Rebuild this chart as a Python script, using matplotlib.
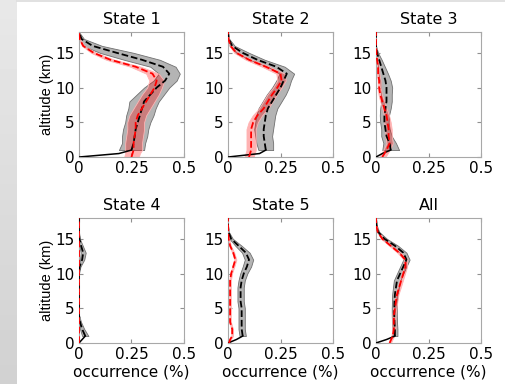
"""Occurrence profiles by state, black and red with spread bands"""
import numpy as np
import matplotlib
matplotlib.use("Agg")
import matplotlib.pyplot as plt

ALT = [0, 0.5, 1, 2, 3, 4, 5, 6, 7, 8, 9, 10, 11, 12, 13, 14, 15, 16, 17, 18]
TITLES = ["State 1", "State 2", "State 3", "State 4", "State 5", "All"]

# black profiles (mean and half spread)
s1_black = [0, 0.19, 0.25, 0.26, 0.265, 0.27, 0.28, 0.29, 0.30, 0.31, 0.34, 0.37, 0.41, 0.43, 0.40, 0.30, 0.18, 0.065, 0.012, 0]
s1_black_err = [0, 0, 0.06, 0.055, 0.06, 0.06, 0.06, 0.065, 0.065, 0.07, 0.065, 0.06, 0.055, 0.05, 0.06, 0.085, 0.08, 0.045, 0.012, 0]
s2_black = [0, 0.15, 0.18, 0.175, 0.17, 0.17, 0.175, 0.18, 0.19, 0.21, 0.23, 0.25, 0.265, 0.28, 0.23, 0.14, 0.07, 0.02, 0.003, 0]
s2_black_err = [0, 0, 0.035, 0.04, 0.04, 0.045, 0.045, 0.045, 0.045, 0.045, 0.045, 0.04, 0.035, 0.035, 0.04, 0.035, 0.03, 0.012, 0.003, 0]
s3_black = [0, 0.03, 0.07, 0.065, 0.05, 0.045, 0.04, 0.04, 0.045, 0.05, 0.05, 0.05, 0.045, 0.035, 0.025, 0.015, 0.005, 0, 0, 0]
s3_black_err = [0, 0, 0.04, 0.03, 0.025, 0.02, 0.02, 0.022, 0.025, 0.025, 0.025, 0.027, 0.025, 0.022, 0.017, 0.012, 0.005, 0, 0, 0]
s4_black = [0, 0.015, 0.03, 0.015, 0.005, 0, 0, 0, 0, 0, 0, 0, 0.003, 0.015, 0.02, 0.01, 0.002, 0, 0, 0]
s4_black_err = [0, 0, 0.015, 0.01, 0.005, 0, 0, 0, 0, 0, 0, 0, 0.004, 0.01, 0.012, 0.008, 0.002, 0, 0, 0]
s5_black = [0, 0.04, 0.07, 0.065, 0.065, 0.065, 0.065, 0.06, 0.06, 0.06, 0.065, 0.075, 0.09, 0.10, 0.085, 0.05, 0.015, 0.002, 0, 0]
s5_black_err = [0, 0, 0.015, 0.015, 0.015, 0.015, 0.015, 0.015, 0.015, 0.015, 0.015, 0.017, 0.02, 0.02, 0.018, 0.015, 0.008, 0.002, 0, 0]
all_black = [0, 0.05, 0.09, 0.09, 0.088, 0.087, 0.087, 0.088, 0.09, 0.095, 0.10, 0.115, 0.13, 0.145, 0.13, 0.09, 0.04, 0.01, 0.002, 0]
all_black_err = [0, 0, 0.012, 0.012, 0.012, 0.012, 0.012, 0.012, 0.013, 0.014, 0.015, 0.015, 0.015, 0.015, 0.015, 0.015, 0.012, 0.005, 0.001, 0]

# red profiles (mean and half spread)
s1_red = [0.25, 0.255, 0.26, 0.26, 0.265, 0.27, 0.27, 0.28, 0.30, 0.32, 0.34, 0.36, 0.37, 0.35, 0.27, 0.15, 0.07, 0.02, 0.003, 0]
s1_red_err = [0.035, 0.035, 0.04, 0.04, 0.04, 0.04, 0.04, 0.04, 0.04, 0.04, 0.04, 0.035, 0.035, 0.03, 0.025, 0.02, 0.012, 0.006, 0.002, 0]
s2_red = [0.10, 0.105, 0.11, 0.11, 0.11, 0.11, 0.12, 0.14, 0.17, 0.19, 0.21, 0.235, 0.255, 0.25, 0.18, 0.10, 0.04, 0.012, 0.002, 0]
s2_red_err = [0.022, 0.022, 0.022, 0.022, 0.022, 0.022, 0.022, 0.022, 0.022, 0.022, 0.022, 0.02, 0.02, 0.02, 0.018, 0.015, 0.01, 0.005, 0.001, 0]
s3_red = [0.03, 0.04, 0.05, 0.065, 0.06, 0.06, 0.055, 0.05, 0.04, 0.03, 0.02, 0.015, 0.015, 0.01, 0.01, 0.005, 0.002, 0, 0, 0]
s3_red_err = [0.015, 0.015, 0.015, 0.015, 0.015, 0.015, 0.015, 0.012, 0.01, 0.01, 0.008, 0.007, 0.007, 0.006, 0.005, 0.003, 0.001, 0, 0, 0]
s4_red = [0] * 20
s4_red_err = [0] * 20
s5_red = [0.005, 0.01, 0.02, 0.02, 0.01, 0.01, 0.01, 0.01, 0.01, 0.01, 0.01, 0.015, 0.025, 0.035, 0.025, 0.01, 0.003, 0.001, 0, 0]
s5_red_err = [0.003, 0.003, 0.004, 0.004, 0.004, 0.004, 0.004, 0.004, 0.004, 0.004, 0.004, 0.004, 0.005, 0.005, 0.005, 0.004, 0.002, 0.001, 0, 0]
all_red = [0.065, 0.072, 0.08, 0.085, 0.085, 0.085, 0.09, 0.095, 0.10, 0.11, 0.12, 0.13, 0.14, 0.14, 0.11, 0.07, 0.03, 0.008, 0.001, 0]
all_red_err = [0.006, 0.006, 0.007, 0.007, 0.007, 0.007, 0.007, 0.007, 0.007, 0.008, 0.008, 0.008, 0.008, 0.008, 0.008, 0.007, 0.005, 0.003, 0.001, 0]

BLACK = [s1_black, s2_black, s3_black, s4_black, s5_black, all_black]
BLACK_ERR = [s1_black_err, s2_black_err, s3_black_err, s4_black_err, s5_black_err, all_black_err]
RED = [s1_red, s2_red, s3_red, s4_red, s5_red, all_red]
RED_ERR = [s1_red_err, s2_red_err, s3_red_err, s4_red_err, s5_red_err, all_red_err]

plt.rcParams['font.family'] = ['DejaVu Sans']

fig = plt.figure(figsize=(5.06, 3.84), dpi=100)

# grey gradient strip on the left edge
strip = fig.add_axes([0, 0, 17 / 506, 1])
strip.imshow(np.linspace(0.91, 0.82, 100).reshape(-1, 1), cmap='gray', vmin=0, vmax=1,
             aspect='auto', extent=[0, 1, 0, 1])
strip.axis('off')
fig.add_artist(plt.Line2D([17 / 506, 1], [0.998, 0.998], color='#dcdcdc', lw=1.2))

lefts = [0.1561, 0.4506, 0.7431]
bottoms = [0.5911, 0.1068]
z = np.array(ALT)

for i, title in enumerate(TITLES):
    row, col = divmod(i, 3)
    ax = fig.add_axes([lefts[col], bottoms[row], 0.2075, 0.3255])

    b = np.array(BLACK[i])
    be = np.array(BLACK_ERR[i])
    r = np.array(RED[i])
    re_ = np.array(RED_ERR[i])

    ax.fill_betweenx(z[2:], (b - be)[2:], (b + be)[2:], facecolor='#b4b4b4',
                     edgecolor='#707070', lw=0.6, zorder=1)
    ax.fill_betweenx(z, r - re_, r + re_, facecolor=(1, 0, 0, 0.3),
                     edgecolor=(1, 0.7, 0.7), lw=0.6, zorder=2)
    ax.plot(b[:3], z[:3], color='k', lw=1.1, zorder=3)
    ax.plot(b[2:], z[2:], color='k', lw=1.3, ls='--', zorder=3)
    ax.plot(r, z, color='red', lw=1.3, ls='--', zorder=4)

    ax.set_xlim(0, 0.5)
    ax.set_ylim(0, 18)
    ax.set_xticks([0, 0.25, 0.5])
    ax.set_xticklabels(['0', '0.25', '0.5'])
    ax.set_yticks([0, 5, 10, 15])
    ax.tick_params(direction='in', length=3, top=True, right=True, color='#909090',
                   labelsize=11, pad=3)
    for sp in ax.spines.values():
        sp.set_color('#a8a8a8')
        sp.set_linewidth(0.8)
    ax.set_title(title, fontsize=11.5, pad=6)
    if col == 0:
        ax.set_ylabel('altitude (km)', fontsize=10.5, family='Liberation Sans', labelpad=1)
    if row == 1:
        ax.set_xlabel('occurrence (%)', fontsize=11, labelpad=2)

fig.savefig('out.png', dpi=100)
